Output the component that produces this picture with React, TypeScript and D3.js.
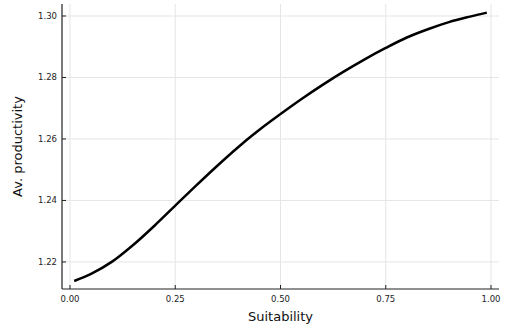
import React from "react";
import * as d3 from "d3";

const suitability = [0.01, 0.05, 0.1, 0.15, 0.2, 0.25, 0.3, 0.35, 0.4, 0.45, 0.5, 0.55, 0.6, 0.65, 0.7, 0.75, 0.8, 0.85, 0.9, 0.95, 0.99];
const productivity = [1.2138, 1.2161, 1.2201, 1.2255, 1.2317, 1.2383, 1.2449, 1.2513, 1.2574, 1.2630, 1.2681, 1.2730, 1.2776, 1.2819, 1.2859, 1.2896, 1.2930, 1.2957, 1.2980, 1.2998, 1.3011];
const xTicks = [0, 0.25, 0.5, 0.75, 1.0];
const yTicks = [1.22, 1.24, 1.26, 1.28, 1.3];

const W = 517;
const H = 332;
const margin = { top: 4, right: 18, bottom: 43, left: 62 };

export default function App() {
  const x = d3.scaleLinear().domain([-0.019, 1.019]).range([margin.left, W - margin.right]);
  const y = d3.scaleLinear().domain([1.2112, 1.3039]).range([H - margin.bottom, margin.top]);

  const pts = suitability.map((s, i) => [s, productivity[i]] as [number, number]);
  const line = d3.line<[number, number]>().x(d => x(d[0])).y(d => y(d[1])).curve(d3.curveCatmullRom);

  const x0 = margin.left;
  const x1 = W - margin.right;
  const y0 = H - margin.bottom;
  const y1 = margin.top;
  const font = "DejaVu Sans, sans-serif";

  return (
    <svg width={W} height={H} style={{ position: "absolute", left: 0, top: 0, background: "#fff" }} fontFamily={font}>
      {/* grid */}
      {xTicks.map(t => (
        <line key={"gx" + t} x1={x(t)} x2={x(t)} y1={y0} y2={y1} stroke="#e5e5e5" strokeWidth={1} />
      ))}
      {yTicks.map(t => (
        <line key={"gy" + t} x1={x0} x2={x1} y1={y(t)} y2={y(t)} stroke="#e5e5e5" strokeWidth={1} />
      ))}
      {/* spines */}
      <line x1={x0} x2={x0} y1={y0} y2={y1} stroke="#222" strokeWidth={1.2} />
      <line x1={x0} x2={x1} y1={y0} y2={y0} stroke="#222" strokeWidth={1.2} />
      {/* ticks */}
      {xTicks.map(t => (
        <g key={"tx" + t}>
          <line x1={x(t)} x2={x(t)} y1={y0} y2={y0 - 4} stroke="#222" strokeWidth={1} />
          <text x={x(t)} y={y0 + 13} textAnchor="middle" fontSize={8.5} fill="#222">{t.toFixed(2)}</text>
        </g>
      ))}
      {yTicks.map(t => (
        <g key={"ty" + t}>
          <line x1={x0} x2={x0 + 4} y1={y(t)} y2={y(t)} stroke="#222" strokeWidth={1} />
          <text x={x0 - 5} y={y(t) + 3} textAnchor="end" fontSize={8.5} fill="#222">{t.toFixed(2)}</text>
        </g>
      ))}
      {/* curve */}
      <path d={line(pts) || ""} fill="none" stroke="#000" strokeWidth={2.5} />
      {/* labels */}
      <text x={(x0 + x1) / 2} y={H - 11} textAnchor="middle" fontSize={13} fill="#111">Suitability</text>
      <text transform={`translate(22,${(y0 + y1) / 2}) rotate(-90)`} textAnchor="middle" fontSize={13} fill="#111">Av. productivity</text>
    </svg>
  );
}
